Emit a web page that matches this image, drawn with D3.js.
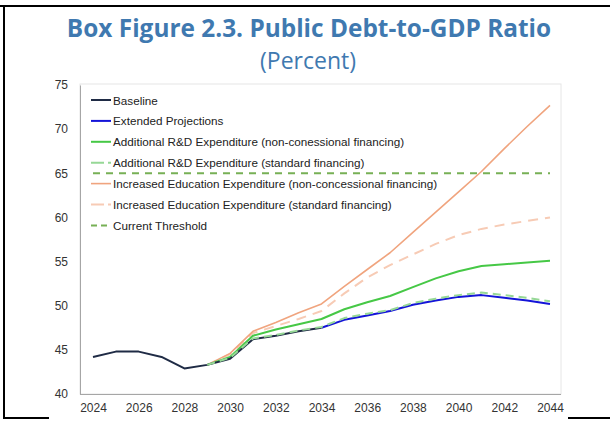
<!DOCTYPE html>
<html>
<head>
<meta charset="utf-8">
<script src="https://cdn.jsdelivr.net/npm/d3@7"></script>
<style>
  html, body { margin: 0; padding: 0; background: #fff; }
  svg { display: block; }
</style>
</head>
<body>
<svg id="chart" width="610" height="421"></svg>
<script>
// Public debt-to-GDP ratio, percent
const years = d3.range(2024, 2045);
const baselineYears = d3.range(2024, 2035);
const baseline = [44.2, 44.8, 44.8, 44.2, 42.9, 43.3, 44.0, 46.2, 46.6, 47.1, 47.5];
const projYears = d3.range(2034, 2045);
const extended = [47.5, 48.4, 48.9, 49.4, 50.1, 50.6, 51.0, 51.2, 50.9, 50.6, 50.2];
const scenYears = d3.range(2029, 2045);
const rdNonConcessional = [43.3, 44.2, 46.6, 47.3, 47.9, 48.5, 49.6, 50.4, 51.1, 52.1, 53.1, 53.9, 54.5, 54.7, 54.9, 55.1];
const rdStandard        = [43.3, 44.1, 46.3, 46.7, 47.2, 47.6, 48.6, 49.1, 49.5, 50.3, 50.8, 51.2, 51.5, 51.2, 50.9, 50.5];
const eduNonConcessional= [43.3, 44.6, 47.1, 48.1, 49.2, 50.2, 52.2, 54.1, 56.0, 58.3, 60.6, 62.9, 65.2, 67.8, 70.3, 72.7];
const eduStandard       = [43.3, 44.5, 46.9, 47.7, 48.5, 49.4, 51.4, 53.2, 54.6, 55.8, 57.0, 58.0, 58.7, 59.2, 59.6, 60.0];
const threshold = 65;
const yTicks = [40, 45, 50, 55, 60, 65, 70, 75];
const xTicks = [2024, 2026, 2028, 2030, 2032, 2034, 2036, 2038, 2040, 2042, 2044];

const series = [
  { name: "Baseline", xs: baselineYears, ys: baseline, color: "#1f2b45", width: 2, dash: null },
  { name: "Extended Projections", xs: projYears, ys: extended, color: "#1414d8", width: 2, dash: null },
  { name: "Additional R&D Expenditure (non-conessional financing)", xs: scenYears, ys: rdNonConcessional, color: "#46c846", width: 2, dash: null },
  { name: "Additional R&D Expenditure (standard financing)", xs: scenYears, ys: rdStandard, color: "#96d896", width: 2, dash: "8,5" },
  { name: "Increased Education Expenditure (non-concessional financing)", xs: scenYears, ys: eduNonConcessional, color: "#f0a47e", width: 1.6, dash: null },
  { name: "Increased Education Expenditure (standard financing)", xs: scenYears, ys: eduStandard, color: "#f7cbb5", width: 2, dash: "10,7" },
  { name: "Current Threshold", xs: [2024, 2044], ys: [threshold, threshold], color: "#77b055", width: 2, dash: "7,6" }
];

const svg = d3.select("#chart");

// outer frame (top, left, short bottom segments)
const frame = svg.append("g").attr("stroke", "#000").attr("stroke-width", 2);
frame.append("line").attr("x1", 0).attr("x2", 610).attr("y1", 6).attr("y2", 6);
frame.append("line").attr("x1", 4).attr("x2", 4).attr("y1", 5).attr("y2", 419);
frame.append("line").attr("x1", 3).attr("x2", 49).attr("y1", 418).attr("y2", 418);
frame.append("line").attr("x1", 568).attr("x2", 610).attr("y1", 418).attr("y2", 418);

// title
svg.append("text").attr("x", 309).attr("y", 37).attr("text-anchor", "middle")
  .attr("font-family", "'Open Sans', sans-serif").attr("font-weight", 700)
  .attr("font-size", 24.4).attr("fill", "#3f79b0")
  .text("Box Figure 2.3. Public Debt-to-GDP Ratio");
svg.append("text").attr("x", 308).attr("y", 69).attr("text-anchor", "middle")
  .attr("font-family", "'Open Sans', sans-serif")
  .attr("font-size", 23).attr("fill", "#3f79b0")
  .text("(Percent)");

const x = d3.scaleLinear().domain([2024, 2044]).range([93, 550]);
const y = d3.scaleLinear().domain([40, 75]).range([394, 85]);

// plot area border
svg.append("rect").attr("x", 80).attr("y", 84).attr("width", 481).attr("height", 310)
  .attr("fill", "none").attr("stroke", "#e6e6e6").attr("stroke-width", 1);

const fontAxis = "'Liberation Sans', Arial, sans-serif";

// axes
const yAxis = svg.append("g").attr("transform", "translate(80,0)")
  .call(d3.axisLeft(y).tickValues(yTicks).tickSize(0).tickPadding(12));
yAxis.select(".domain").attr("stroke", "#a6a6a6");
yAxis.selectAll("text").attr("font-family", fontAxis).attr("font-size", 12).attr("fill", "#333");

const xAxis = svg.append("g").attr("transform", "translate(0,394.5)")
  .call(d3.axisBottom(x).tickValues(xTicks).tickFormat(d3.format("d")).tickSize(0).tickPadding(9));
xAxis.select(".domain").attr("stroke", "#a6a6a6").attr("d", "M80,0H561");
xAxis.selectAll("text").attr("font-family", fontAxis).attr("font-size", 12).attr("fill", "#333");

// lines
const line = d3.line().x(d => x(d[0])).y(d => y(d[1]));
const drawOrder = [6, 5, 4, 2, 1, 0, 3];
const lines = svg.append("g");
drawOrder.forEach(i => {
  const s = series[i];
  lines.append("path")
    .datum(s.xs.map((yr, k) => [yr, s.ys[k]]))
    .attr("d", line)
    .attr("fill", "none")
    .attr("stroke", s.color)
    .attr("stroke-width", s.width)
    .attr("stroke-dasharray", s.dash)
    .attr("stroke-linejoin", "round");
});

// legend
const legend = svg.append("g").attr("transform", "translate(91,100)");
series.forEach((s, i) => {
  const g = legend.append("g").attr("transform", `translate(0,${i * 20.9})`);
  g.append("line").attr("x1", 0).attr("x2", 20).attr("y1", 0).attr("y2", 0)
    .attr("stroke", s.color).attr("stroke-width", s.width)
    .attr("stroke-dasharray", s.dash ? (i === 6 ? "6,4" : "13,4") : null);
  g.append("text").attr("x", 22).attr("y", 4.5)
    .attr("font-family", fontAxis).attr("font-size", 11.7).attr("fill", "#222")
    .text(s.name);
});
</script>
</body>
</html>
